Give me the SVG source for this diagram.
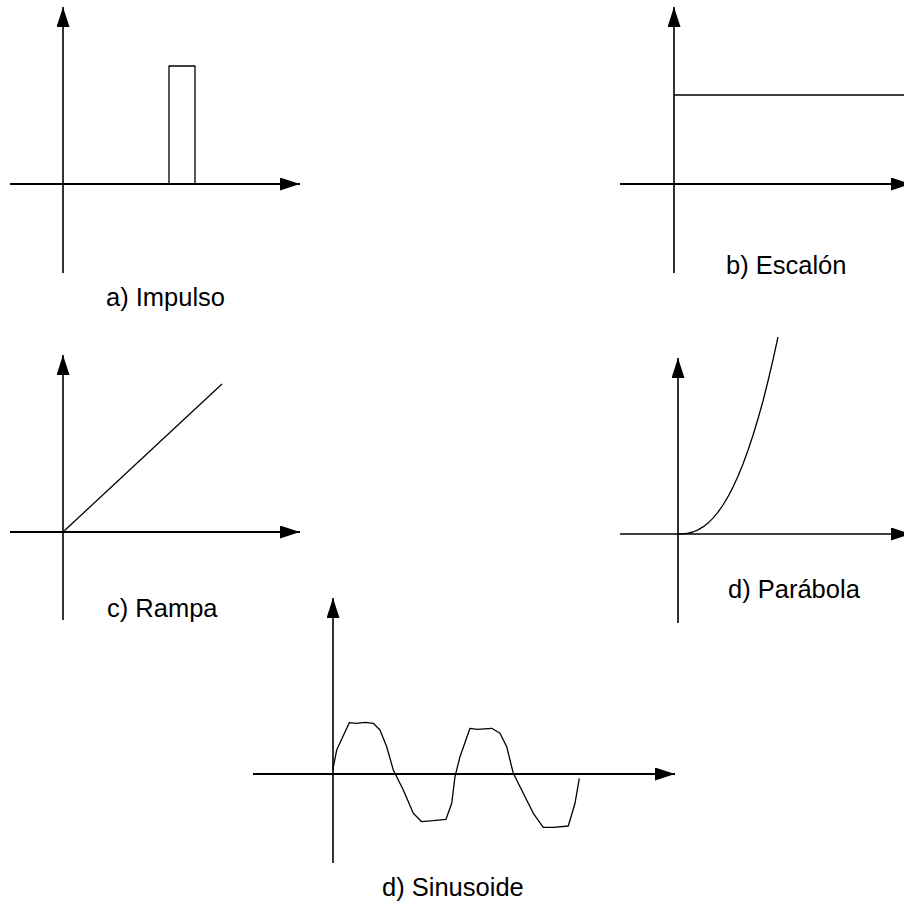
<svg xmlns="http://www.w3.org/2000/svg" width="904" height="905" viewBox="0 0 904 905">
<style>
.ax{stroke:#000;stroke-width:1.6;fill:none}
.axh{stroke:#000;stroke-width:2;fill:none}
.cv{stroke:#000;stroke-width:1.3;fill:none;stroke-linejoin:round}
.lbl{font-family:"Liberation Sans",Arial,sans-serif;font-size:25.5px;fill:#000}
</style>
<defs>
<marker id="ah" viewBox="0 0 20 13" refX="20" refY="6.5" markerWidth="20" markerHeight="13" markerUnits="userSpaceOnUse" orient="auto">
<path d="M0,0 L20,6.5 L0,13 z" fill="#000"/>
</marker>
</defs>
<rect width="904" height="905" fill="#fff"/>
<g id="impulso">
<line class="ax" x1="63" y1="273" x2="63" y2="7" marker-end="url(#ah)"/>
<line class="axh" x1="10" y1="184" x2="300" y2="184" marker-end="url(#ah)"/>
<polyline class="cv" points="169,184 169,66 195,66 195,184"/>
<text class="lbl" x="106" y="306">a) Impulso</text>
</g>
<g id="escalon">
<line class="ax" x1="674" y1="273" x2="674" y2="7" marker-end="url(#ah)"/>
<line class="axh" x1="620" y1="184" x2="911" y2="184" marker-end="url(#ah)"/>
<line class="cv" x1="674" y1="95" x2="904" y2="95"/>
<text class="lbl" x="726" y="274">b) Escalón</text>
</g>
<g id="rampa">
<line class="ax" x1="63" y1="620" x2="63" y2="355" marker-end="url(#ah)"/>
<line class="axh" x1="10" y1="532" x2="300" y2="532" marker-end="url(#ah)"/>
<line class="cv" x1="63" y1="532" x2="222" y2="384"/>
<text class="lbl" x="107" y="617">c) Rampa</text>
</g>
<g id="parabola">
<line class="ax" x1="678" y1="623" x2="678" y2="358" marker-end="url(#ah)"/>
<line class="ax" x1="620" y1="534" x2="911" y2="534" marker-end="url(#ah)"/>
<polyline class="cv" points="678,534 683,533.9 688,533.2 693,532 698,529.9 703,526.9 708,523.1 713,518.1 718,512.2 723,505 728,496.7 733,487.1 738,476.2 743,464 748,450.3 753,435.2 758,418.7 763,401 768,381 773,359.8 778,337"/>
<text class="lbl" x="728" y="598">d) Parábola</text>
</g>
<g id="sinusoide">
<line class="ax" x1="333" y1="863" x2="333" y2="598" marker-end="url(#ah)"/>
<line class="axh" x1="253" y1="774" x2="675" y2="774" marker-end="url(#ah)"/>
<polyline class="cv" points="332.7,770 336.7,750 349.3,722.7 356.7,723.3 365,722.3 373.3,723.3 380,730 386.7,746.7 393.3,770 403.3,790 413.3,813.3 421.7,821.7 433.3,820.7 446,819.3 451.7,803.3 455,776.7 460,756.7 470,728.3 477.3,729.3 491.7,728.3 500,733.3 506.7,746.7 513.3,773.3 523.3,793.3 533.3,813.3 543.3,827.3 553.3,827.3 568.3,826 575,803.3 579.3,778.3"/>
<text class="lbl" x="382" y="896">d) Sinusoide</text>
</g>
</svg>
